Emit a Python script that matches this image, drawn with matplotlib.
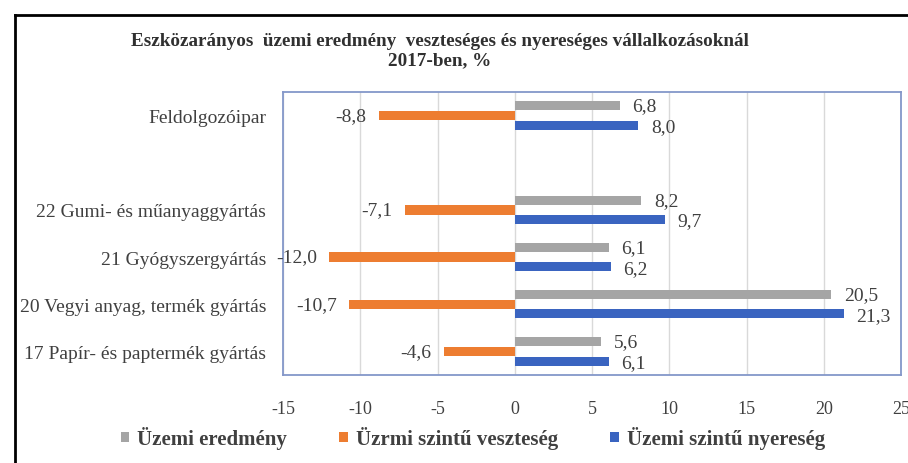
import matplotlib.pyplot as plt
import numpy as np
from matplotlib.lines import Line2D

plt.rcParams['font.family'] = ['Liberation Serif', 'DejaVu Serif']

categories = ["Feldolgozóipar", "", "22 Gumi- és műanyaggyártás",
              "21 Gyógyszergyártás", "20 Vegyi anyag, termék gyártás",
              "17 Papír- és paptermék gyártás"]
eredmeny = [6.8, np.nan, 8.2, 6.1, 20.5, 5.6]
veszteseg = [-8.8, np.nan, -7.1, -12.0, -10.7, -4.6]
nyereseg = [8.0, np.nan, 9.7, 6.2, 21.3, 6.1]
xticks = [-15, -10, -5, 0, 5, 10, 15, 20, 25]
series_names = ["Üzemi eredmény", "Üzrmi szintű veszteség", "Üzemi szintű nyereség"]

c_gray, c_orange, c_blue = '#A5A5A5', '#ED7D31', '#3A64C0'
txt = '#404040'


def fmt(v):
    return f"{v:.1f}".replace('.', ',')


fig = plt.figure(figsize=(9.08, 4.64), dpi=100)
ax = fig.add_axes([283 / 908, 88 / 464, 618 / 908, 283 / 464])

y = np.arange(len(categories))
b1 = ax.barh(y - 0.205, eredmeny, height=0.19, color=c_gray, label=series_names[0])
b2 = ax.barh(y, veszteseg, height=0.2, color=c_orange, label=series_names[1])
b3 = ax.barh(y + 0.205, nyereseg, height=0.19, color=c_blue, label=series_names[2])

for i in range(len(categories)):
    if not np.isnan(eredmeny[i]):
        ax.annotate(fmt(eredmeny[i]), (eredmeny[i], i - 0.205), xytext=(9, 0),
                    textcoords='offset points', ha='left', va='center',
                    fontsize=14, color=txt)
    if not np.isnan(nyereseg[i]):
        ax.annotate(fmt(nyereseg[i]), (nyereseg[i], i + 0.205), xytext=(9, -1),
                    textcoords='offset points', ha='left', va='center',
                    fontsize=14, color=txt)
    if not np.isnan(veszteseg[i]):
        ax.annotate(fmt(veszteseg[i]), (veszteseg[i], i), xytext=(-9, 0),
                    textcoords='offset points', ha='right', va='center',
                    fontsize=14, color=txt)

ax.set_xlim(-15, 25)
ax.set_ylim(len(categories) - 0.5, -0.5)
ax.set_xticks(xticks)
ax.set_xticklabels([str(t) for t in xticks], fontsize=13, color=txt)
ax.set_yticks(y)
ax.set_yticklabels(categories, fontsize=14, color=txt)
ax.tick_params(length=0)
ax.tick_params(axis='x', pad=18)
ax.tick_params(axis='y', pad=12)
ax.grid(axis='x', color='#D9D9D9', lw=1)
ax.set_axisbelow(True)
for s in ax.spines.values():
    s.set_color('#8497C9')
    s.set_linewidth(1.3)

fig.text(440 / 908, 1 - 42 / 464,
         "Eszközarányos  üzemi eredmény  veszteséges és nyereséges vállalkozásoknál",
         ha='center', va='center', fontsize=13.8, fontweight='bold', color='#303030')
fig.text(440 / 908, 1 - 61 / 464, "2017-ben, %",
         ha='center', va='center', fontsize=13.8, fontweight='bold', color='#303030')

fig.legend(handles=[b1, b2, b3], labels=series_names, loc='center',
           bbox_to_anchor=(473 / 908, 1 - 439 / 464), ncol=3, frameon=False,
           handlelength=0.4, handleheight=0.4, handletextpad=0.4,
           columnspacing=2.5, prop={'size': 15, 'weight': 'bold'},
           labelcolor=txt)

# black frame of the screenshot
fig.add_artist(Line2D([15 / 908, 15 / 908], [0, 1 - 16 / 464],
                      transform=fig.transFigure, color='black', lw=2))
fig.add_artist(Line2D([15 / 908, 1], [1 - 16 / 464, 1 - 16 / 464],
                      transform=fig.transFigure, color='black', lw=2))

fig.savefig('out.png', dpi=100)
